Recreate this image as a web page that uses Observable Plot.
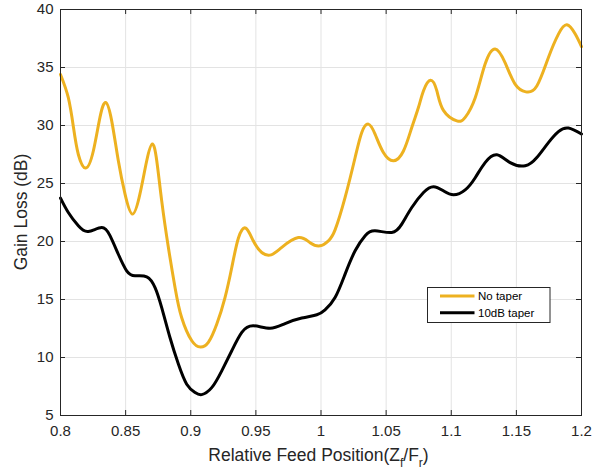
<!DOCTYPE html>
<html>
<head>
<meta charset="utf-8">
<script src="https://cdn.jsdelivr.net/npm/d3@7"></script>
<script src="https://cdn.jsdelivr.net/npm/@observablehq/plot@0.6"></script>
<style>
  html, body { margin: 0; padding: 0; background: #fff; }
  #chart { position: relative; width: 593px; height: 476px; }
  svg { font-family: "Liberation Sans", Arial, Helvetica, sans-serif; }
</style>
</head>
<body>
<div id="chart"></div>
<script>
// ---- data ----
const noTaperX = [0.8,0.806,0.81,0.8137,0.8194,0.8252,0.8303,0.8347,0.8393,0.8444,0.8495,0.8552,0.861,0.8662,0.8705,0.8739,0.8777,0.8828,0.888,0.893,0.9008,0.9075,0.9135,0.92,0.9263,0.9315,0.9366,0.9422,0.948,0.9545,0.9617,0.9699,0.9826,0.9916,0.9993,1.0057,1.0108,1.0185,1.0262,1.0313,1.0364,1.0415,1.0479,1.0556,1.0633,1.0697,1.0748,1.0787,1.0841,1.0889,1.094,1.1043,1.1107,1.1184,1.126,1.1337,1.1414,1.149,1.1573,1.1657,1.1746,1.1823,1.1888,1.1952,1.2];
const noTaperY = [34.4,32.4,29.8,27.5,26.33,27.8,30.7,31.98,30.4,26.96,24.1,22.36,24.1,26.96,28.4,26.96,23.5,19.5,16.0,13.45,11.44,10.9,11.3,12.88,15.17,17.76,20.3,21.15,20.06,19.05,18.85,19.5,20.34,19.9,19.63,20.06,21.0,23.8,27.24,29.4,30.12,29.26,27.67,26.96,27.8,29.83,31.55,33.0,33.9,33.0,31.3,30.4,30.7,32.4,35.3,36.6,35.4,33.57,32.9,33.4,35.86,37.88,38.68,37.88,36.8];
const taperX = [0.8,0.806,0.8137,0.8213,0.8316,0.838,0.8444,0.8508,0.8572,0.8662,0.8726,0.8777,0.8841,0.8905,0.8969,0.9033,0.9084,0.9161,0.9238,0.9315,0.9392,0.948,0.9609,0.9724,0.9852,0.9968,1.0031,1.0108,1.0185,1.0262,1.0339,1.0415,1.0543,1.062,1.0697,1.0787,1.0863,1.094,1.1017,1.1107,1.1184,1.126,1.135,1.1452,1.1568,1.1657,1.1746,1.1823,1.19,1.2];
const taperY = [23.74,22.5,21.35,20.86,21.2,20.5,18.9,17.47,17.04,16.96,16.03,14.3,11.7,9.43,7.7,6.98,6.8,7.4,8.85,10.58,12.16,12.73,12.53,12.93,13.4,13.68,14.1,15.17,17.19,19.2,20.5,20.92,20.78,21.5,22.93,24.22,24.72,24.37,24.03,24.45,25.5,26.8,27.47,26.8,26.53,27.24,28.53,29.48,29.78,29.26];
const seriesNames = ["No taper", "10dB taper"];
const seriesColors = ["#EDB120", "#000000"];
const xTicks = [0.8,0.85,0.9,0.95,1,1.05,1.1,1.15,1.2];
const xTickLabels = ["0.8","0.85","0.9","0.95","1","1.05","1.1","1.15","1.2"];
const yTicks = [5,10,15,20,25,30,35,40];
const yLabel = "Gain Loss (dB)";

const noTaper = noTaperX.map((x, i) => ({x, y: noTaperY[i]}));
const taper = taperX.map((x, i) => ({x, y: taperY[i]}));

const W = 593, H = 476;
const mTop = 9, mBottom = 61, mLeft = 60, mRight = 12;
const innerH = H - mTop - mBottom;
const innerW = W - mLeft - mRight;
const axisColor = "#262626";
const tickLen = 5;
const lw = 3;

const chart = Plot.plot({
  width: W,
  height: H,
  marginTop: mTop,
  marginBottom: mBottom,
  marginLeft: mLeft,
  marginRight: mRight,
  style: {fontFamily: '"Liberation Sans", Arial, Helvetica, sans-serif', color: axisColor, background: "#fff"},
  x: {domain: [0.8, 1.2]},
  y: {domain: [5, 40]},
  marks: [
    Plot.gridX(xTicks, {stroke: "#e3e3e3", strokeOpacity: 1, strokeWidth: 1}),
    Plot.gridY(yTicks, {stroke: "#e3e3e3", strokeOpacity: 1, strokeWidth: 1}),
    Plot.axisX(xTicks, {tickSize: 0, tickPadding: 10, fontSize: 15, tickFormat: (d) => xTickLabels[xTicks.indexOf(d)], label: null, fill: axisColor}),
    Plot.axisY(yTicks, {tickSize: 0, tickPadding: 7, fontSize: 15, label: null, fill: axisColor}),
    // inward tick marks on all four sides
    Plot.tickX(xTicks, {x: d => d, stroke: axisColor, insetTop: innerH - tickLen}),
    Plot.tickX(xTicks, {x: d => d, stroke: axisColor, insetBottom: innerH - tickLen}),
    Plot.tickY(yTicks, {y: d => d, stroke: axisColor, insetRight: innerW - tickLen}),
    Plot.tickY(yTicks, {y: d => d, stroke: axisColor, insetLeft: innerW - tickLen}),
    Plot.line(noTaper, {x: "x", y: "y", stroke: seriesColors[0], strokeWidth: lw, curve: "natural"}),
    Plot.line(taper, {x: "x", y: "y", stroke: seriesColors[1], strokeWidth: lw, curve: "natural"}),
    Plot.frame({stroke: axisColor, strokeWidth: 1})
  ]
});

document.getElementById("chart").appendChild(chart);

const svg = d3.select(chart);
const font = '"Liberation Sans", Arial, Helvetica, sans-serif';

// y axis label
svg.append("text")
  .attr("transform", `translate(27, ${mTop + innerH / 2}) rotate(-90)`)
  .attr("text-anchor", "middle")
  .attr("font-family", font)
  .attr("font-size", 17.5)
  .attr("fill", axisColor)
  .text(yLabel);

// x axis label with subscripts
const xl = svg.append("text")
  .attr("x", mLeft + innerW / 2 - 2)
  .attr("y", 461)
  .attr("text-anchor", "middle")
  .attr("font-family", font)
  .attr("font-size", 17.5)
  .attr("fill", axisColor);
xl.append("tspan").text("Relative Feed Position(Z");
xl.append("tspan").attr("dy", 6).attr("font-size", 12).text("f");
xl.append("tspan").attr("dy", -6).text("/F");
xl.append("tspan").attr("dy", 6).attr("font-size", 12).text("r");
xl.append("tspan").attr("dy", -6).text(")");

// legend
const lg = svg.append("g").attr("transform", "translate(427.5, 287.5)");
lg.append("rect").attr("width", 122.5).attr("height", 35).attr("fill", "#fff").attr("stroke", axisColor).attr("stroke-width", 1);
seriesNames.forEach((name, i) => {
  const yy = 8.5 + i * 16.7;
  lg.append("line").attr("x1", 12.5).attr("x2", 47).attr("y1", yy).attr("y2", yy)
    .attr("stroke", seriesColors[i]).attr("stroke-width", lw);
  lg.append("text").attr("x", 50.5).attr("y", yy + 4).attr("text-anchor", "start").attr("font-family", font)
    .attr("font-size", 11.5).attr("fill", "#000").text(name);
});
</script>
</body>
</html>
